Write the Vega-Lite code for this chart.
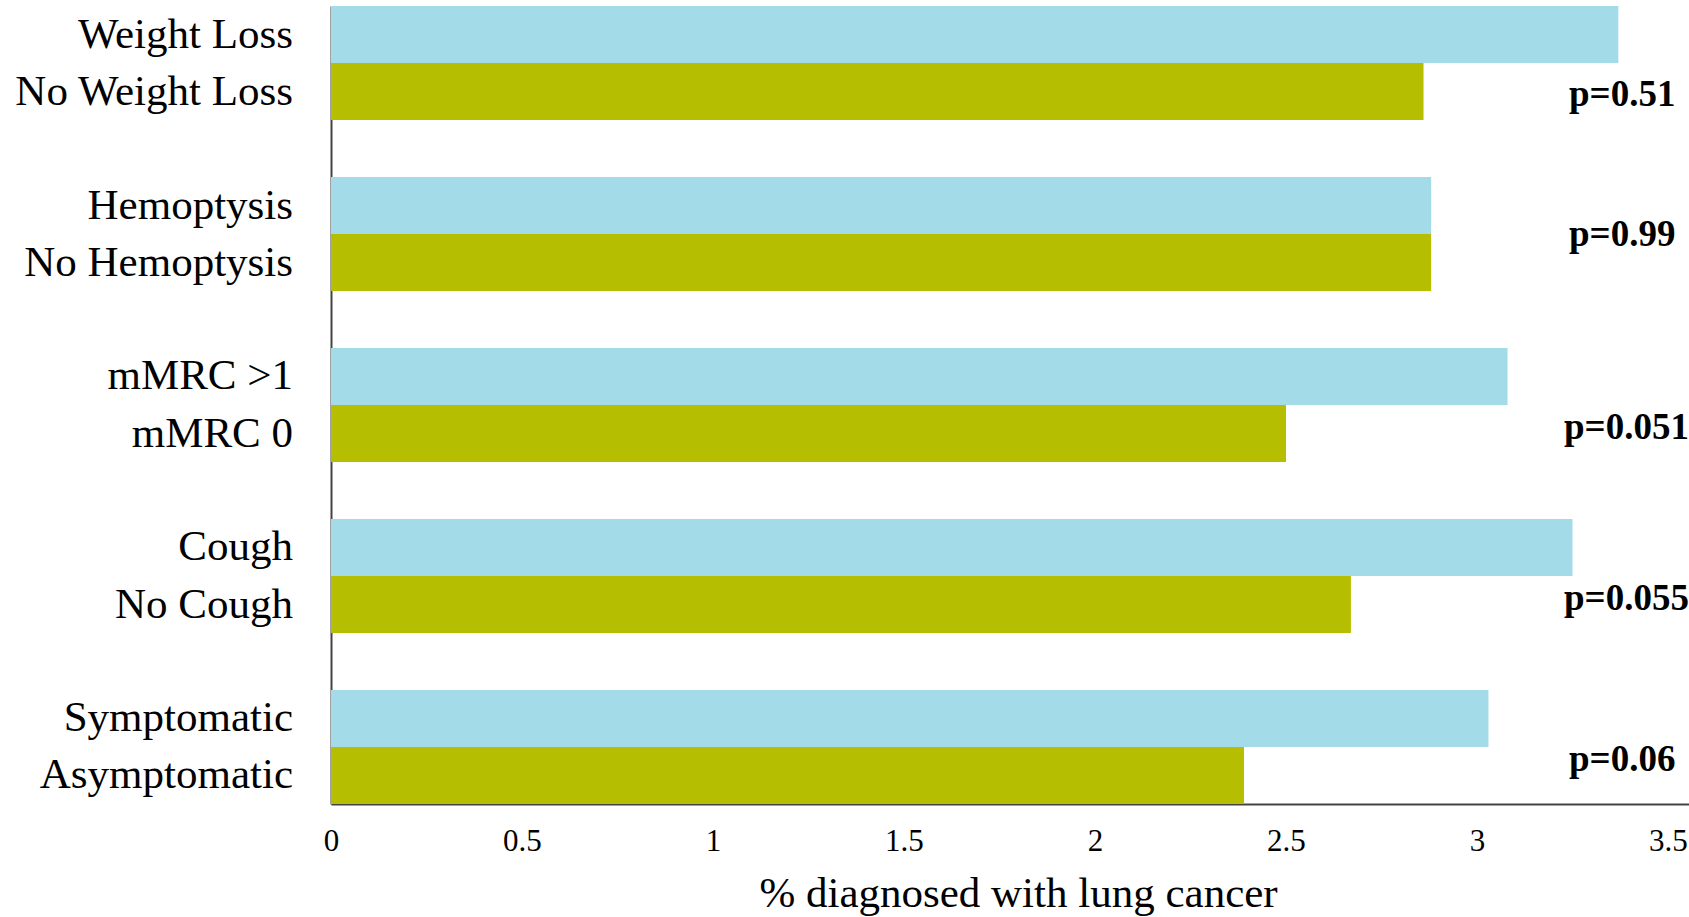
{
  "$schema": "https://vega.github.io/schema/vega-lite/v6.json",
  "width": 1358,
  "height": 798,
  "autosize": {"type": "none"},
  "padding": {"left": 331, "top": 6, "right": 0, "bottom": 113},
  "background": "white",
  "config": {"view": {"stroke": null}, "font": "Liberation Serif"},
  "datasets": {
    "bars": [
      {"group": "Weight Loss", "label": "Weight Loss", "kind": "with", "value": 3.37},
      {"group": "Weight Loss", "label": "No Weight Loss", "kind": "without", "value": 2.86},
      {"group": "Hemoptysis", "label": "Hemoptysis", "kind": "with", "value": 2.88},
      {"group": "Hemoptysis", "label": "No Hemoptysis", "kind": "without", "value": 2.88},
      {"group": "mMRC", "label": "mMRC >1", "kind": "with", "value": 3.08},
      {"group": "mMRC", "label": "mMRC 0", "kind": "without", "value": 2.5},
      {"group": "Cough", "label": "Cough", "kind": "with", "value": 3.25},
      {"group": "Cough", "label": "No Cough", "kind": "without", "value": 2.67},
      {"group": "Symptoms", "label": "Symptomatic\u00a0", "kind": "with", "value": 3.03},
      {"group": "Symptoms", "label": "Asymptomatic", "kind": "without", "value": 2.39}
    ],
    "pvals": [
      {"group": "Weight Loss", "p": "p=0.51"},
      {"group": "Hemoptysis", "p": "p=0.99"},
      {"group": "mMRC", "p": "p=0.051"},
      {"group": "Cough", "p": "p=0.055"},
      {"group": "Symptoms", "p": "p=0.06"}
    ]
  },
  "layer": [
    {
      "data": {"name": "bars"},
      "mark": {"type": "bar"},
      "encoding": {
        "y": {
          "field": "group", "type": "nominal",
          "sort": ["Weight Loss", "Hemoptysis", "mMRC", "Cough", "Symptoms"],
          "scale": {"paddingInner": 0.3333, "paddingOuter": 0},
          "axis": {"labels": false, "ticks": false, "tickSize": 0, "title": null, "domain": true, "domainColor": "#444444", "domainWidth": 2}
        },
        "yOffset": {
          "field": "kind", "type": "nominal",
          "sort": ["with", "without"],
          "scale": {"paddingInner": 0, "paddingOuter": 0}
        },
        "x": {
          "field": "value", "type": "quantitative",
          "scale": {"domain": [0, 3.555], "nice": false},
          "axis": {
            "values": [0, 0.5, 1, 1.5, 2, 2.5, 3, 3.5],
            "format": "~g",
            "grid": false, "ticks": false, "tickSize": 0,
            "labelFlush": false,
            "labelFont": "Liberation Serif", "labelFontSize": 31, "labelColor": "black",
            "labelPadding": 22,
            "domainColor": "#444444", "domainWidth": 2,
            "title": "% diagnosed with lung cancer",
            "titleFont": "Liberation Serif", "titleFontSize": 43, "titleFontWeight": "normal",
            "titleColor": "black", "titlePadding": 16,
            "titleX": 687, "titleAlign": "center"
          }
        },
        "color": {
          "field": "kind", "type": "nominal",
          "scale": {"domain": ["with", "without"], "range": ["#a4dbe8", "#b5be00"]},
          "legend": null
        }
      }
    },
    {
      "data": {"name": "bars"},
      "mark": {"type": "text", "align": "right", "baseline": "middle", "dx": -38, "fontSize": 43, "font": "Liberation Serif", "color": "black"},
      "encoding": {
        "y": {"field": "group", "type": "nominal", "sort": ["Weight Loss", "Hemoptysis", "mMRC", "Cough", "Symptoms"]},
        "yOffset": {"field": "kind", "type": "nominal", "sort": ["with", "without"]},
        "x": {"datum": 0, "type": "quantitative"},
        "text": {"field": "label"}
      }
    },
    {
      "data": {"name": "pvals"},
      "transform": [{"filter": "datum.group === 'Weight Loss'"}],
      "mark": {"type": "text", "align": "left", "baseline": "alphabetic", "dx": -99, "dy": 43, "fontSize": 37, "fontWeight": "bold", "font": "Liberation Serif", "color": "black"},
      "encoding": {
        "y": {"field": "group", "type": "nominal", "sort": ["Weight Loss", "Hemoptysis", "mMRC", "Cough", "Symptoms"]},
        "x": {"datum": 3.5, "type": "quantitative"},
        "text": {"field": "p"}
      }
    },
    {
      "data": {"name": "pvals"},
      "transform": [{"filter": "datum.group === 'Hemoptysis'"}],
      "mark": {"type": "text", "align": "left", "baseline": "alphabetic", "dx": -99, "dy": 12, "fontSize": 37, "fontWeight": "bold", "font": "Liberation Serif", "color": "black"},
      "encoding": {
        "y": {"field": "group", "type": "nominal", "sort": ["Weight Loss", "Hemoptysis", "mMRC", "Cough", "Symptoms"]},
        "x": {"datum": 3.5, "type": "quantitative"},
        "text": {"field": "p"}
      }
    },
    {
      "data": {"name": "pvals"},
      "transform": [{"filter": "datum.group === 'mMRC' || datum.group === 'Cough'"}],
      "mark": {"type": "text", "align": "left", "baseline": "alphabetic", "dx": -104, "dy": 34, "fontSize": 37, "fontWeight": "bold", "font": "Liberation Serif", "color": "black"},
      "encoding": {
        "y": {"field": "group", "type": "nominal", "sort": ["Weight Loss", "Hemoptysis", "mMRC", "Cough", "Symptoms"]},
        "x": {"datum": 3.5, "type": "quantitative"},
        "text": {"field": "p"}
      }
    },
    {
      "data": {"name": "pvals"},
      "transform": [{"filter": "datum.group === 'Symptoms'"}],
      "mark": {"type": "text", "align": "left", "baseline": "alphabetic", "dx": -99, "dy": 24, "fontSize": 37, "fontWeight": "bold", "font": "Liberation Serif", "color": "black"},
      "encoding": {
        "y": {"field": "group", "type": "nominal", "sort": ["Weight Loss", "Hemoptysis", "mMRC", "Cough", "Symptoms"]},
        "x": {"datum": 3.5, "type": "quantitative"},
        "text": {"field": "p"}
      }
    }
  ]
}
